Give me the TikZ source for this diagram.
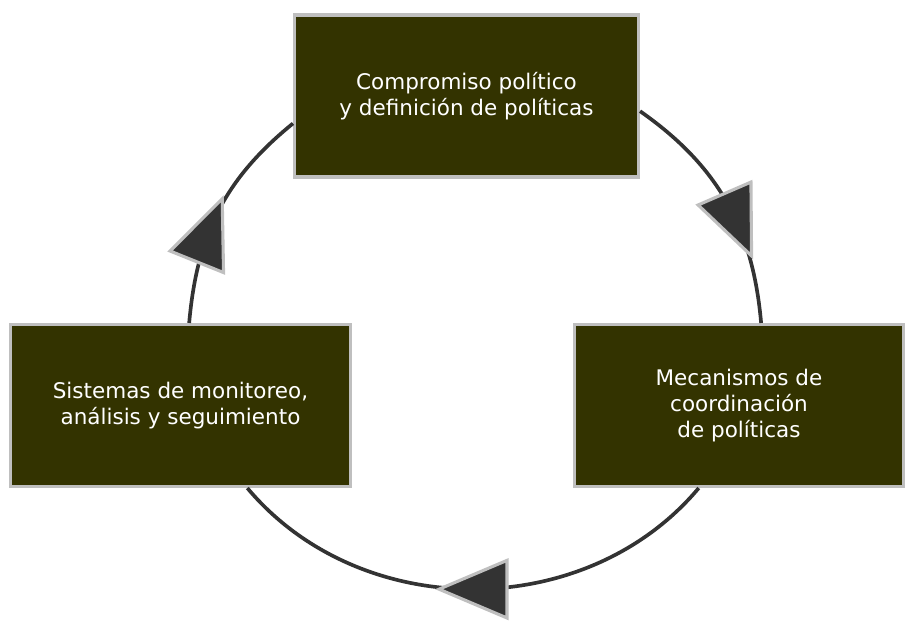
\documentclass[tikz,border=0pt]{standalone}
\usepackage{fontspec}
\setmainfont{DejaVu Sans}
\usetikzlibrary{decorations.markings}
\definecolor{boxolive}{RGB}{51,51,0}
\definecolor{rimgray}{RGB}{191,191,191}
\definecolor{arcdark}{RGB}{51,51,51}
\tikzset{
  stage/.style={draw=rimgray, line width=2.2pt, fill=boxolive, text=white, align=center,
    font=\fontsize{15.3}{18.5}\selectfont, minimum height=4.05cm, inner sep=0pt},
  cyclearc/.style={draw=arcdark, line width=2.6pt},
  tip at/.style={postaction={decorate}, decoration={markings, mark=at position #1 with
    {\draw[fill=arcdark, draw=rimgray, line width=2.2pt, line join=miter] (-0.85,0.72) -- (0.85,0) -- (-0.85,-0.72) -- cycle;}}}
}
\begin{document}
\begin{tikzpicture}
    \useasboundingbox (0,0) rectangle (22.65,15.525);
    \node[stage, minimum width=8.6cm] (politica) at (11.6625,13.125) {Compromiso político\\y definición de políticas};
    \node[stage, minimum width=8.225cm] (coordinacion) at (18.475,5.3875) {Mecanismos de\\coordinación\\de políticas};
    \node[stage, minimum width=8.5cm] (monitoreo) at (4.5125,5.3875) {Sistemas de monitoreo,\\análisis y seguimiento};
    % ciclo
    \draw[cyclearc, tip at=0.6] (politica.-5.6) to[out=-35, in=95] (coordinacion.75);
    \draw[cyclearc, tip at=0.5] (coordinacion.-116) to[out=-130, in=-50] (monitoreo.-51);
    \draw[cyclearc, tip at=0.41] (monitoreo.84) to[out=85, in=-141] (politica.189);
\end{tikzpicture}
\end{document}
